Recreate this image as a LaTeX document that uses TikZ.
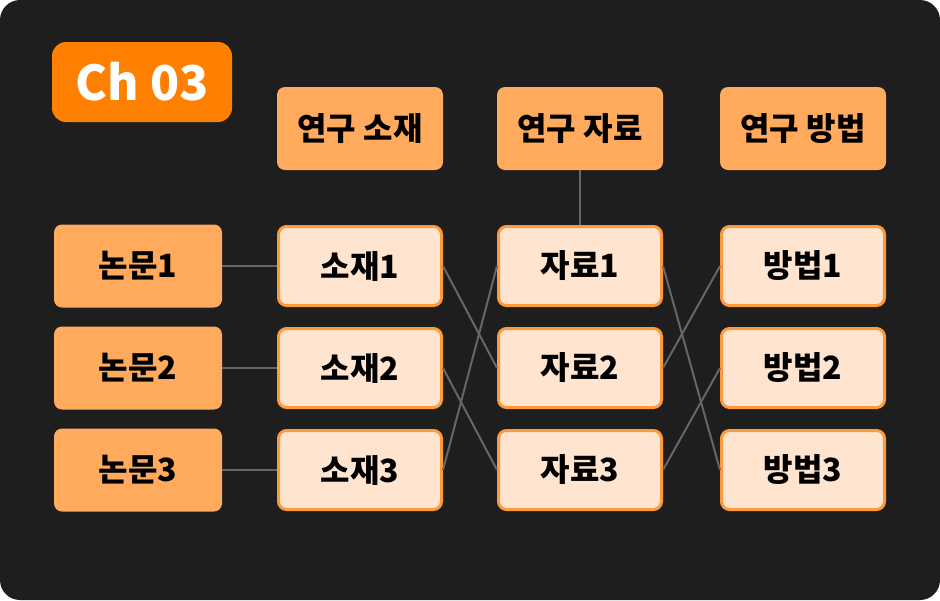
\documentclass[tikz,border=0pt]{standalone}
\usepackage{fontspec}
\setmainfont{Noto Sans CJK KR}
\definecolor{bgdark}{HTML}{1E1E1E}
\definecolor{chorange}{HTML}{FF7F00}
\definecolor{hdrfill}{HTML}{FFAA5C}
\definecolor{itemfill}{HTML}{FFE5D0}
\definecolor{itemline}{HTML}{FF9A3C}
\definecolor{linkgray}{HTML}{666666}
\begin{document}
\begin{tikzpicture}[x=1pt,y=-1pt,
  hdrbox/.style={fill=hdrfill, rounded corners=8pt, minimum width=166pt, minimum height=83pt, inner sep=0pt, font=\bfseries\fontsize{32}{36}\selectfont, text=black},
  itembox/.style={fill=itemfill, draw=itemline, line width=3pt, rounded corners=8pt, minimum width=163pt, minimum height=79pt, inner sep=0pt, font=\bfseries\fontsize{32}{36}\selectfont, text=black},
  link/.style={draw=linkgray, line width=2pt}]
\useasboundingbox (0,0) rectangle (940,600);
\fill[white] (0,0) rectangle (940,600);
\fill[bgdark, rounded corners=20pt] (0,0) rectangle (940,600);
\node[fill=chorange, rounded corners=14pt, minimum width=180pt, minimum height=80pt, inner sep=0pt, text=white, font=\bfseries\fontsize{48}{52}\selectfont] (ch) at (142,82) {Ch 03};
\node[hdrbox] (h1) at (360,128.5) {연구 소재};
\node[hdrbox] (h2) at (580,128.5) {연구 자료};
\node[hdrbox] (h3) at (803,128.5) {연구 방법};
\node[hdrbox, minimum width=168pt] (p1) at (138,266) {논문1};
\node[hdrbox, minimum width=168pt] (p2) at (138,368) {논문2};
\node[hdrbox, minimum width=168pt] (p3) at (138,470) {논문3};
\node[itembox] (s1) at (360,266) {소재1};
\node[itembox] (s2) at (360,368) {소재2};
\node[itembox] (s3) at (360,470) {소재3};
\node[itembox] (d1) at (580,266) {자료1};
\node[itembox] (d2) at (580,368) {자료2};
\node[itembox] (d3) at (580,470) {자료3};
\node[itembox] (m1) at (803,266) {방법1};
\node[itembox] (m2) at (803,368) {방법2};
\node[itembox] (m3) at (803,470) {방법3};
\draw[link] (p1.east) -- (s1.west);
\draw[link] (p2.east) -- (s2.west);
\draw[link] (p3.east) -- (s3.west);
\draw[link] (s1.east) -- (d2.west);
\draw[link] (s2.east) -- (d3.west);
\draw[link] (s3.east) -- (d1.west);
\draw[link] (d1.east) -- (m3.west);
\draw[link] (d2.east) -- (m1.west);
\draw[link] (d3.east) -- (m2.west);
\draw[link] (h2.south) -- (d1.north);
\end{tikzpicture}
\end{document}
